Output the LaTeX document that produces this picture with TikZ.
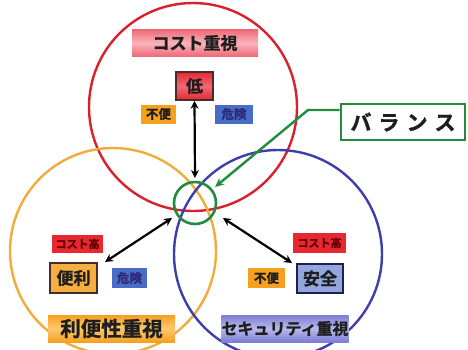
\documentclass[tikz,border=0pt]{standalone}
\usepackage{fontspec}
\newfontfamily\jp[FakeBold=1.2]{Noto Sans CJK JP Bold}
\usetikzlibrary{arrows.meta}
\definecolor{cred}{RGB}{218,32,44}
\definecolor{corange}{RGB}{242,172,62}
\definecolor{cblue}{RGB}{62,62,172}
\definecolor{cgreen}{RGB}{34,140,62}
\definecolor{fred}{RGB}{232,40,48}
\definecolor{fpink}{RGB}{238,105,118}
\definecolor{fpinkl}{RGB}{248,180,188}
\definecolor{forange}{RGB}{246,160,32}
\definecolor{forangel}{RGB}{252,200,110}
\definecolor{fblue}{RGB}{72,108,200}
\definecolor{fbluet}{RGB}{125,125,212}
\definecolor{fbluel}{RGB}{185,185,235}
\definecolor{dtext}{RGB}{30,30,30}
\definecolor{dborder}{RGB}{70,45,45}
\tikzset{
  x=1pt, y=-1pt,
  ring/.style={line width=2.4pt},
  titlebox/.style={minimum height=27pt, inner sep=0pt, font=\jp\fontsize{17}{17}\selectfont, text=dtext},
  tag/.style={minimum height=19pt, inner sep=0pt, font=\jp\fontsize{12.5}{12.5}\selectfont},
  keybox/.style={minimum height=28pt, inner sep=0pt, draw=dborder, line width=1.6pt, font=\jp\fontsize{17}{17}\selectfont, text=dtext},
  dbl/.style={line width=2.2pt, {Stealth[length=8pt,width=8pt]}-{Stealth[length=8pt,width=8pt]}},
}
\begin{document}
\begin{tikzpicture}
\useasboundingbox (0,0) rectangle (468,349);
\fill[white] (0,0) rectangle (468,349);
% circles
\draw[ring, draw=cred] (193,107) circle[radius=104];
\draw[ring, draw=corange] (113,251) circle[radius=103];
\draw[ring, draw=cblue] (278,254) circle[radius=104];
\node[draw=cgreen, line width=2.6pt, circle, minimum size=42pt, inner sep=0pt] (bal) at (195,203) {};
% title boxes
\node[titlebox, minimum width=126pt, top color=fpink, bottom color=fpink, middle color=fpinkl] (cost) at (195,43) {コスト重視};
\node[titlebox, minimum width=127pt, top color=forange, bottom color=forange, middle color=forangel, font=\jp\fontsize{20.5}{20.5}\selectfont] (conv) at (111.5,328.5) {利便性重視};
\node[titlebox, minimum width=126pt, top color=fbluet, bottom color=fbluet, middle color=fbluel, font=\jp\fontsize{16}{16}\selectfont] (sec) at (285,328.5) {セキュリティ重視};
% top cluster
\node[keybox, minimum width=37pt, top color=fred, bottom color=fred, middle color=fpink] (low) at (194.5,86) {低};
\node[tag, minimum width=35pt, fill=forange, text=dtext] (t1) at (158.5,114) {不便};
\node[tag, minimum width=38pt, fill=fblue, text=cblue!70!black] (t2) at (234,114) {危険};
% left cluster
\node[tag, minimum width=51pt, minimum height=18pt, fill=fred, text=red!40!black, font=\jp\fontsize{11}{11}\selectfont] (l1) at (77.5,244) {コスト高};
\node[keybox, minimum width=47pt, minimum height=30pt, fill=forange!85!white] (conv2) at (73.5,278) {便利};
\node[tag, minimum width=35pt, minimum height=20pt, fill=fblue, text=cblue!70!black] (l2) at (129.5,278) {危険};
% right cluster
\node[tag, minimum width=53pt, minimum height=20pt, fill=fred, text=red!40!black, font=\jp\fontsize{11}{11}\selectfont] (r1) at (319.5,243) {コスト高};
\node[keybox, minimum width=46pt, minimum height=29pt, fill=fblue!60!white, draw=cblue!50!black] (safe) at (320,278.5) {安全};
\node[tag, minimum width=37pt, minimum height=20pt, fill=forange, text=dtext] (r2) at (266.5,278) {不便};
% arrows
\coordinate (a1) at (195,178);
\coordinate (a2) at (172,218);
\coordinate (a3) at (223,218);
\draw[dbl] (low.south) -- (a1);
\draw[dbl] (105,262) -- (a2);
\draw[dbl] (a3) -- (292,263);
% balance label
\node[draw=cgreen, line width=2.6pt, minimum width=124pt, minimum height=36pt, inner sep=0pt, font=\jp\fontsize{21}{21}\selectfont, text=dtext] (bl) at (403,122) {バ\kern7pt ラ\kern7pt ン\kern7pt ス};
\coordinate (bend) at (308,110);
\draw[cgreen, line width=2.4pt, -{Stealth[length=9pt,width=8pt]}] (bl.west |- bend) -- (bend) -- (215,187);
\end{tikzpicture}
\end{document}
